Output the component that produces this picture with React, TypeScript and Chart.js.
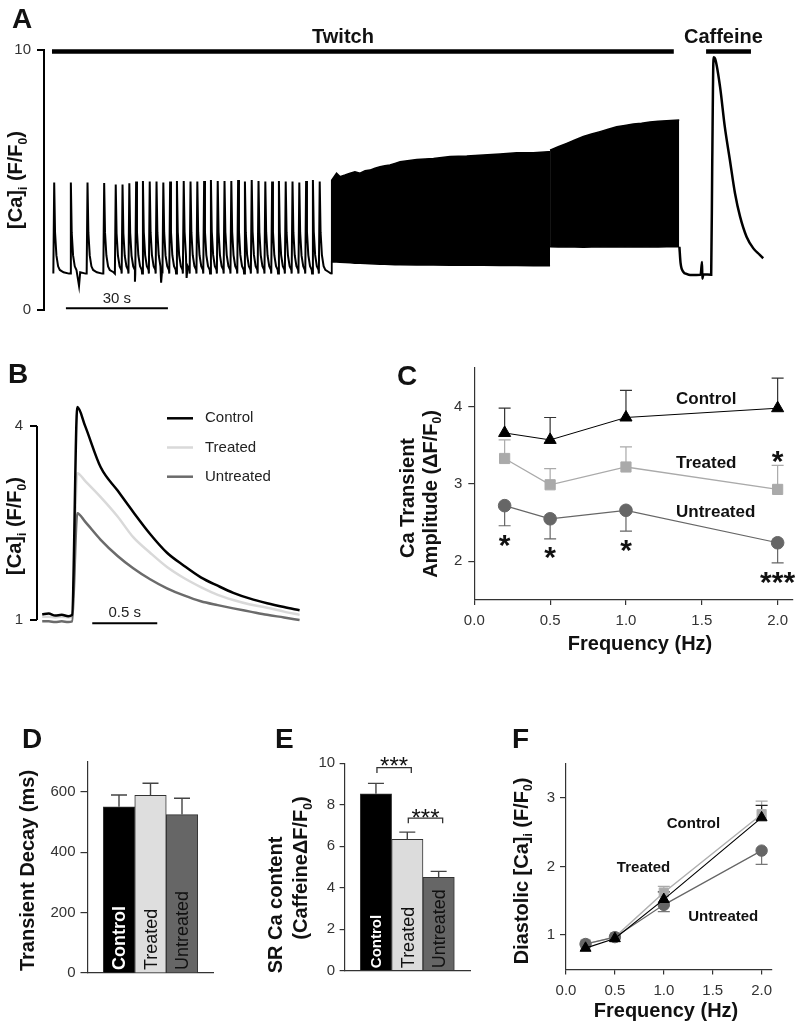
import React, { useEffect, useRef } from 'react';
import { Chart, registerables } from 'chart.js';

Chart.register(...registerables);

const FONT = '"Liberation Sans", Arial, Helvetica, sans-serif';
Chart.defaults.font.family = FONT;

const PAGE_W = 801;
const PAGE_H = 1026;

// ================= DATA =================
// Panel A: slow pacing beats (0.2 Hz then 0.5 Hz): onset time (s) and peak (F/F0)
const aSlowOnsets = [0.1, 5.0, 9.9, 14.8, 18.2, 20.2, 22.2, 24.2, 26.2, 28.2, 30.2, 32.2, 34.2, 36.2, 38.2, 40.2, 42.2, 44.2, 46.2, 48.2, 50.2, 52.2, 54.2, 56.2, 58.2, 60.2, 62.2, 64.2, 66.2, 68.2, 70.2, 72.2, 74.2, 76.2, 78.2];
const aSlowPeaks = [4.9, 4.9, 4.9, 4.88, 4.83, 4.83, 4.87, 4.94, 4.96, 4.94, 4.94, 4.9, 4.94, 4.96, 4.96, 4.94, 4.94, 4.96, 5.0, 4.96, 4.96, 4.96, 5.0, 4.94, 5.0, 4.96, 4.94, 4.94, 4.96, 4.94, 4.94, 4.9, 4.96, 5.0, 4.94];
const aSlowBaseline = 1.4;
// single transient shape read from the isolated beats (time after onset, fraction of amplitude)
const aShapeTime = [0, 0.25, 0.5, 0.9, 1.4, 1.9, 3.0, 4.6];
const aShapeFrac = [0, 1, 0.45, 0.2, 0.08, 0.04, 0.015, 0];
// recording noise dips in the slow segment
const aNoiseTime = [7.65, 24.1, 31.8, 39.3];
const aNoiseValue = [0.93, 1.09, 1.05, 1.23];
// 1 Hz segment envelope
const aFast1Time = [81.8, 81.97, 83.4, 84.4, 85.9, 87.4, 88.8, 90.3, 91.8, 93.2, 94.7, 96.2, 97.6, 99.1, 100.6, 102.1, 107, 111.9, 116.8, 121.7, 126.6, 131.5, 136.4, 141.3, 145.7, 146.2];
const aFast1Top = [1.4, 4.99, 5.26, 5.13, 5.19, 5.26, 5.32, 5.26, 5.36, 5.38, 5.45, 5.51, 5.55, 5.58, 5.64, 5.7, 5.79, 5.83, 5.9, 5.92, 5.96, 6.0, 6.05, 6.05, 6.09, 6.09];
const aFast1Bottom = [1.4, 1.86, 1.85, 1.84, 1.83, 1.82, 1.8, 1.8, 1.79, 1.78, 1.77, 1.76, 1.76, 1.75, 1.74, 1.74, 1.73, 1.73, 1.72, 1.72, 1.72, 1.71, 1.71, 1.7, 1.7, 1.7];
// 2 Hz segment envelope
const aFast2Time = [146.2, 148.6, 151.1, 153.5, 156, 158.4, 160.9, 163.3, 165.8, 168.2, 170.7, 173.1, 175.6, 178, 180.5, 184.2];
const aFast2Top = [6.15, 6.28, 6.41, 6.54, 6.67, 6.77, 6.86, 6.95, 7.05, 7.1, 7.15, 7.18, 7.23, 7.26, 7.28, 7.31];
const aFast2Bottom = [2.43, 2.42, 2.43, 2.42, 2.41, 2.42, 2.43, 2.42, 2.42, 2.43, 2.42, 2.42, 2.43, 2.42, 2.43, 2.43];
// rest + caffeine transient
const aTailTime = [184.25, 184.6, 185.4, 186.5, 187.4, 190.5, 190.9, 191.0, 191.3, 193.6, 193.9, 194.3, 194.7, 196.2, 197.6, 199.1, 200.6, 202.1, 204, 206, 207.9, 208.9];
const aTailValue = [2.43, 1.8, 1.47, 1.38, 1.35, 1.36, 1.85, 1.2, 1.37, 1.36, 5.5, 9.72, 9.68, 8.59, 7.05, 5.77, 4.49, 3.59, 2.82, 2.37, 2.12, 1.99];
const aTwitchSpan = [-0.3, 182.6];
const aCaffeineSpan = [192.1, 205.3];
const aScaleBarSpan = [3.8, 33.8];
const aYTicks = [0, 10];

// Panel B: representative transients (time s, F/F0)
const bTime = [0, 0.05, 0.1, 0.15, 0.2, 0.23, 0.27, 0.33, 0.45, 0.58, 0.7, 0.83, 0.96, 1.09, 1.22, 1.35, 1.47, 1.6, 1.73, 1.86, 1.98];
const bControl = [1.09, 1.1, 1.07, 1.08, 1.06, 1.08, 4.29, 4.0, 3.36, 3.0, 2.67, 2.33, 2.04, 1.84, 1.66, 1.53, 1.42, 1.33, 1.26, 1.2, 1.15];
const bTreated = [1.05, 1.05, 1.04, 1.05, 1.04, 1.05, 3.27, 3.15, 2.9, 2.6, 2.28, 2.04, 1.82, 1.65, 1.51, 1.39, 1.31, 1.24, 1.19, 1.13, 1.08];
const bUntreated = [0.98, 0.98, 0.97, 0.98, 0.97, 0.98, 2.65, 2.52, 2.24, 1.99, 1.8, 1.63, 1.49, 1.38, 1.29, 1.23, 1.18, 1.13, 1.08, 1.04, 1.0];
const bScaleBarSpan = [0.385, 0.885];
const bYTicks = [1, 4];
const groups = ['Control', 'Treated', 'Untreated'];

// Panel C: Ca transient amplitude vs frequency
const freqs = [0.2, 0.5, 1.0, 2.0];
const cControl = [3.66, 3.57, 3.86, 3.98];
const cControlSem = [0.32, 0.29, 0.35, 0.39];
const cTreated = [3.33, 2.99, 3.22, 2.93];
const cTreatedSem = [0.24, 0.21, 0.26, 0.31];
const cUntreated = [2.72, 2.55, 2.66, 2.24];
const cUntreatedSem = [0.26, 0.26, 0.27, 0.26];
const cYTicks = [2, 3, 4];
const freqTicks = [0, 0.5, 1.0, 1.5, 2.0];

// Panel D: transient decay (ms)
const dDecay = [551, 589, 525];
const dDecaySem = [39, 40, 54];
const dYTicks = [0, 200, 400, 600];

// Panel E: SR Ca content
const eContent = [8.53, 6.33, 4.5];
const eContentSem = [0.5, 0.35, 0.29];
const eYTicks = [0, 2, 4, 6, 8, 10];

// Panel F: diastolic Ca vs frequency
const fControl = [0.81, 0.95, 1.52, 2.71];
const fControlSem = [0, 0, 0.11, 0.18];
const fTreated = [0.87, 0.97, 1.62, 2.76];
const fTreatedSem = [0, 0, 0.09, 0.19];
const fUntreated = [0.87, 0.97, 1.44, 2.23];
const fUntreatedSem = [0, 0, 0.1, 0.2];
const fYTicks = [1, 2, 3];

// ================= HELPERS =================
const pts = (xs: number[], ys: number[]) => xs.map((x, i) => ({ x, y: ys[i] }));

function buildSlowTrace() {
  const out: { x: number; y: number }[] = [];
  aSlowOnsets.forEach((t0, i) => {
    const next = i + 1 < aSlowOnsets.length ? aSlowOnsets[i + 1] : aFast1Time[0];
    aShapeTime.forEach((dt, k) => {
      if (t0 + dt < next) out.push({ x: t0 + dt, y: aSlowBaseline + (aSlowPeaks[i] - aSlowBaseline) * aShapeFrac[k] });
    });
  });
  aNoiseTime.forEach((t, i) => out.push({ x: t, y: aNoiseValue[i] }));
  out.push({ x: aFast1Time[0], y: aSlowBaseline });
  out.sort((a, b) => a.x - b.x);
  return out;
}

function text(ctx: any, s: string, x: number, y: number, size: number, o: any = {}) {
  ctx.save();
  ctx.font = `${o.bold ? 'bold ' : ''}${size}px ${FONT}`;
  ctx.fillStyle = o.color ?? '#111';
  ctx.textAlign = o.align ?? 'left';
  ctx.textBaseline = o.base ?? 'alphabetic';
  ctx.fillText(s, x, y);
  ctx.restore();
}

function stars(ctx: any, s: string, cx: number, cy: number, size: number, bold = true) {
  text(ctx, s, cx, cy + 0.585 * size, size, { bold, align: 'center', color: '#111' });
}

// vertical (rotated) rich text with subscripts, centred at (cx, cy) = cap centre
function richV(ctx: any, segs: any[], cx: number, cy: number, size: number) {
  const main = `bold ${size}px ${FONT}`;
  const sub = `bold ${Math.round(size * 0.6)}px ${FONT}`;
  ctx.save();
  ctx.translate(cx, cy);
  ctx.rotate(-Math.PI / 2);
  let total = 0;
  segs.forEach(([t, s]) => { ctx.font = s ? sub : main; total += ctx.measureText(t).width; });
  let x = -total / 2;
  ctx.fillStyle = '#111';
  ctx.textBaseline = 'alphabetic';
  ctx.textAlign = 'left';
  const base = size * 0.36;
  segs.forEach(([t, s]) => {
    ctx.font = s ? sub : main;
    ctx.fillText(t, x, s ? base + size * 0.22 : base);
    x += ctx.measureText(t).width;
  });
  ctx.restore();
}

function vLabel(ctx: any, s: string, x: number, yBottom: number, size: number, bold: boolean, color: string) {
  ctx.save();
  ctx.translate(x, yBottom);
  ctx.rotate(-Math.PI / 2);
  ctx.font = `${bold ? 'bold ' : ''}${size}px ${FONT}`;
  ctx.fillStyle = color;
  ctx.textAlign = 'left';
  ctx.textBaseline = 'alphabetic';
  ctx.fillText(s, 0, 0.36 * size);
  ctx.restore();
}

function errBar(ctx: any, x: number, y0: number, y1: number, cap: number, color: string, lw = 1.2) {
  ctx.save();
  ctx.strokeStyle = color;
  ctx.lineWidth = lw;
  ctx.beginPath();
  ctx.moveTo(x, y0);
  ctx.lineTo(x, y1);
  ctx.moveTo(x - cap / 2, y1);
  ctx.lineTo(x + cap / 2, y1);
  ctx.stroke();
  ctx.restore();
}

function line(ctx: any, x0: number, y0: number, x1: number, y1: number, color: string, lw: number) {
  ctx.save();
  ctx.strokeStyle = color;
  ctx.lineWidth = lw;
  ctx.beginPath();
  ctx.moveTo(x0, y0);
  ctx.lineTo(x1, y1);
  ctx.stroke();
  ctx.restore();
}

function yLinear(o: any) {
  const color = o.color ?? '#333';
  return {
    type: 'linear', position: 'left', min: o.min, max: o.max,
    afterFit: (s: any) => { s.width = o.width; },
    afterBuildTicks: (s: any) => { s.ticks = o.ticks.map((value: number) => ({ value })); },
    grid: { display: true, drawOnChartArea: false, drawTicks: true, tickLength: o.tickLen, color, lineWidth: o.lw ?? 1.2 },
    border: { display: o.border ?? true, color, width: o.lw ?? 1.2 },
    ticks: { color: '#333', font: { size: 15, family: FONT }, padding: o.pad, autoSkip: false, callback: (v: any) => String(v) },
  };
}

function xLinear(o: any) {
  return {
    type: 'linear', position: 'bottom', min: o.min, max: o.max,
    afterFit: (s: any) => { s.height = o.height; },
    afterBuildTicks: (s: any) => { s.ticks = o.ticks.map((value: number) => ({ value })); },
    grid: { display: true, drawOnChartArea: false, drawTicks: true, tickLength: 5, color: '#333', lineWidth: 1.2 },
    border: { display: true, color: '#333', width: 1.2 },
    ticks: { color: '#333', font: { size: 15, family: FONT }, padding: 7, autoSkip: false, maxRotation: 0, callback: (v: any) => Number(v).toFixed(1) },
  };
}

function baseOptions(L: number, T: number, R: number, B: number, yw: number, xh: number, scales: any) {
  return {
    responsive: false,
    maintainAspectRatio: false,
    animation: false,
    devicePixelRatio: 1,
    events: [],
    layout: { padding: { left: L - yw, top: T, right: PAGE_W - R, bottom: PAGE_H - B - xh } },
    plugins: { legend: { display: false }, tooltip: { enabled: false }, title: { display: false } },
    scales,
  };
}

// ================= PANEL A =================
function makeA() {
  const flat = (span: number[], v: number) => [{ x: span[0], y: v }, { x: span[1], y: v }];
  const plugin = {
    id: 'pA',
    afterDraw(chart: any) {
      const { ctx } = chart;
      const x = chart.scales.x, y = chart.scales.y;
      text(ctx, 'A', 12, 28, 28, { bold: true });
      richV(ctx, [['[Ca]'], ['i', true], [' (F/F'], ['0', true], [')']], 15, 180, 20);
      text(ctx, 'Twitch', x.getPixelForValue(85.3), y.getPixelForValue(10.28), 20, { bold: true, align: 'center' });
      text(ctx, 'Caffeine', x.getPixelForValue(197.2), y.getPixelForValue(10.28), 20, { bold: true, align: 'center' });
      text(ctx, '30 s', x.getPixelForValue((aScaleBarSpan[0] + aScaleBarSpan[1]) / 2), y.getPixelForValue(0.26), 15, { align: 'center', color: '#222' });
    },
  };
  return {
    type: 'line',
    data: {
      datasets: [
        { data: buildSlowTrace(), borderColor: '#000', borderWidth: 2, pointRadius: 0 },
        { data: pts(aFast1Time, aFast1Bottom), borderColor: '#000', borderWidth: 1.5, pointRadius: 0 },
        { data: pts(aFast1Time, aFast1Top), borderColor: '#000', borderWidth: 1.5, pointRadius: 0, fill: '-1', backgroundColor: '#000' },
        { data: pts(aFast2Time, aFast2Bottom), borderColor: '#000', borderWidth: 1.5, pointRadius: 0 },
        { data: pts(aFast2Time, aFast2Top), borderColor: '#000', borderWidth: 1.5, pointRadius: 0, fill: '-1', backgroundColor: '#000' },
        { data: pts(aTailTime, aTailValue), borderColor: '#000', borderWidth: 2.5, pointRadius: 0, cubicInterpolationMode: 'monotone' },
        { data: flat(aTwitchSpan, 9.94), borderColor: '#000', borderWidth: 4.5, pointRadius: 0, clip: false },
        { data: flat(aCaffeineSpan, 9.94), borderColor: '#000', borderWidth: 4.5, pointRadius: 0, clip: false },
        { data: flat(aScaleBarSpan, 0.07), borderColor: '#000', borderWidth: 2, pointRadius: 0, clip: false },
      ],
    },
    options: baseOptions(44, 50, 770, 310, 44, 0, {
      x: { type: 'linear', display: false, min: -2.65, max: 210.9 },
      y: yLinear({ min: 0, max: 10, ticks: aYTicks, width: 44, tickLen: 7, pad: 6, color: '#000', lw: 2 }),
    }),
    plugins: [plugin],
  };
}

// ================= PANEL B =================
function makeB() {
  const legendItems = [['Control', '#000'], ['Treated', '#d9d9d9'], ['Untreated', '#6b6b6b']];
  const plugin = {
    id: 'pB',
    afterDraw(chart: any) {
      const { ctx, chartArea } = chart;
      const x = chart.scales.x, y = chart.scales.y;
      line(ctx, chartArea.left, y.getPixelForValue(bYTicks[0]), chartArea.left, y.getPixelForValue(bYTicks[1]), '#000', 2);
      text(ctx, 'B', 8, 383, 28, { bold: true });
      richV(ctx, [['[Ca]'], ['i', true], [' (F/F'], ['0', true], [')']], 14, 526, 20);
      legendItems.forEach(([name, col], i) => {
        const yy = 418.3 + i * 29.2;
        line(ctx, 167, yy, 193, yy, col, 2.5);
        text(ctx, name, 205, yy, 15, { base: 'middle', color: '#222' });
      });
      text(ctx, '0.5 s', x.getPixelForValue((bScaleBarSpan[0] + bScaleBarSpan[1]) / 2), y.getPixelForValue(1.05), 15, { align: 'center', color: '#222' });
    },
  };
  const trace = (vals: number[], color: string) => ({
    data: pts(bTime, vals), borderColor: color, borderWidth: 2.5, pointRadius: 0, cubicInterpolationMode: 'monotone',
  });
  return {
    type: 'line',
    data: {
      datasets: [
        trace(bControl, '#000'),
        trace(bUntreated, '#6b6b6b'),
        trace(bTreated, '#d9d9d9'),
        { data: [{ x: bScaleBarSpan[0], y: 0.95 }, { x: bScaleBarSpan[1], y: 0.95 }], borderColor: '#000', borderWidth: 2, pointRadius: 0, clip: false },
      ],
    },
    options: baseOptions(37, 400, 310, 626.5, 37, 0, {
      x: { type: 'linear', display: false, min: -0.04, max: 2.06 },
      y: yLinear({ min: 0.9, max: 4.4, ticks: bYTicks, width: 37, tickLen: 7, pad: 7, color: '#000', lw: 2, border: false }),
    }),
    plugins: [plugin],
  };
}

// ================= PANEL C =================
function makeC() {
  const plugin = {
    id: 'pC',
    beforeDatasetsDraw(chart: any) {
      const { ctx } = chart;
      const x = chart.scales.x, y = chart.scales.y;
      freqs.forEach((f, i) => {
        const px = x.getPixelForValue(f);
        errBar(ctx, px, y.getPixelForValue(cTreated[i]), y.getPixelForValue(cTreated[i] + cTreatedSem[i]), 12, '#aaa');
        errBar(ctx, px, y.getPixelForValue(cUntreated[i]), y.getPixelForValue(cUntreated[i] - cUntreatedSem[i]), 12, '#666');
        errBar(ctx, px, y.getPixelForValue(cControl[i]), y.getPixelForValue(cControl[i] + cControlSem[i]), 12, '#333');
      });
    },
    afterDraw(chart: any) {
      const { ctx } = chart;
      const x = chart.scales.x, y = chart.scales.y;
      text(ctx, 'C', 397, 385, 28, { bold: true });
      richV(ctx, [['Ca Transient']], 406.5, 498, 20);
      richV(ctx, [['Amplitude (\u0394F/F'], ['0', true], [')']], 429.5, 494, 20);
      text(ctx, 'Frequency (Hz)', 640, 650, 20, { bold: true, align: 'center' });
      text(ctx, 'Control', x.getPixelForValue(1.33), y.getPixelForValue(4.09), 17, { bold: true, base: 'middle' });
      text(ctx, 'Treated', x.getPixelForValue(1.33), y.getPixelForValue(3.27), 17, { bold: true, base: 'middle' });
      text(ctx, 'Untreated', x.getPixelForValue(1.33), y.getPixelForValue(2.64), 17, { bold: true, base: 'middle' });
      stars(ctx, '*', x.getPixelForValue(0.2), y.getPixelForValue(2.31), 30);
      stars(ctx, '*', x.getPixelForValue(0.5), y.getPixelForValue(2.15), 30);
      stars(ctx, '*', x.getPixelForValue(1.0), y.getPixelForValue(2.24), 30);
      stars(ctx, '***', x.getPixelForValue(2.0), y.getPixelForValue(1.835), 30);
      stars(ctx, '*', x.getPixelForValue(2.0), y.getPixelForValue(3.4), 30);
    },
  };
  return {
    type: 'line',
    data: {
      datasets: [
        { data: pts(freqs, cControl), borderColor: '#000', backgroundColor: '#000', borderWidth: 1, pointStyle: 'triangle', pointRadius: 7, pointBorderWidth: 1 },
        { data: pts(freqs, cUntreated), borderColor: '#666', backgroundColor: '#666', borderWidth: 1.2, pointStyle: 'circle', pointRadius: 6.3, pointBorderWidth: 1 },
        { data: pts(freqs, cTreated), borderColor: '#aaa', backgroundColor: '#aaa', borderWidth: 1.3, pointStyle: 'rect', pointRadius: 7.2, pointBorderWidth: 1 },
      ],
    },
    options: baseOptions(474.3, 368, 795.3, 600, 50, 30, {
      x: xLinear({ min: 0, max: 2.1, ticks: freqTicks, height: 30 }),
      y: yLinear({ min: 1.5, max: 4.5, ticks: cYTicks, width: 50, tickLen: 6, pad: 6 }),
    }),
    plugins: [plugin],
  };
}

// ================= BAR PANELS (D, E) =================
function makeBars(opts: any) {
  const values = opts.values, sem = opts.sem;
  const plugin = {
    id: 'bars' + opts.letter,
    afterDatasetsDraw(chart: any) {
      const { ctx } = chart;
      const x = chart.scales.x, y = chart.scales.y;
      values.forEach((v: number, i: number) => {
        const px = x.getPixelForValue(i + 1);
        errBar(ctx, px, y.getPixelForValue(v), y.getPixelForValue(v + sem[i]), 16, '#444', 1.4);
        const bottom = y.getPixelForValue(0) - opts.labelLift;
        if (i === 0) vLabel(ctx, groups[i], px, bottom, opts.ctrlSize, true, '#fff');
        else vLabel(ctx, groups[i], px, bottom, 18, false, '#111');
      });
    },
    afterDraw(chart: any) {
      const { ctx } = chart;
      opts.draw(ctx, chart.scales.x, chart.scales.y);
    },
  };
  return {
    type: 'bar',
    data: {
      labels: ['', ...groups, ''],
      datasets: [{
        data: [null, ...values, null],
        backgroundColor: ['#fff', '#000', opts.treatedColor, '#666', '#fff'],
        borderColor: '#333',
        borderWidth: 1,
        borderSkipped: 'start',
        barPercentage: 1,
        categoryPercentage: 1,
      }],
    },
    options: baseOptions(opts.L, opts.T, opts.R, opts.B, 50, 10, {
      x: {
        type: 'category', offset: false,
        afterFit: (s: any) => { s.height = 10; },
        grid: { display: false, offset: false },
        border: { display: true, color: '#333', width: 1.2 },
        ticks: { display: false },
      },
      y: yLinear({ min: 0, max: opts.max, ticks: opts.ticks, width: 50, tickLen: opts.tickLen, pad: opts.pad }),
    }),
    plugins: [plugin],
  };
}

function makeD() {
  return makeBars({
    letter: 'D', values: dDecay, sem: dDecaySem, L: 87.5, T: 761.8, R: 213.5, B: 973, max: 700, ticks: dYTicks,
    tickLen: 7, pad: 5, treatedColor: '#dedede', ctrlSize: 18, labelLift: 3,
    draw: (ctx: any) => {
      text(ctx, 'D', 22, 748, 28, { bold: true });
      richV(ctx, [['Transient Decay (ms)']], 26.5, 870.5, 20);
    },
  });
}

function makeE() {
  return makeBars({
    letter: 'E', values: eContent, sem: eContentSem, L: 344.6, T: 763.3, R: 470, B: 970.7, max: 10, ticks: eYTicks,
    tickLen: 5, pad: 4.5, treatedColor: '#dcdcdc', ctrlSize: 15, labelLift: 2.5,
    draw: (ctx: any, x: any, y: any) => {
      text(ctx, 'E', 275, 748, 28, { bold: true });
      richV(ctx, [['SR Ca content']], 274.5, 905, 20);
      richV(ctx, [['(Caffeine\u0394F/F'], ['0', true], [')']], 300, 868, 20);
      const bracket = (i: number, j: number, level: number, drop: number, starLevel: number) => {
        const x0 = x.getPixelForValue(i) + 1, x1 = x.getPixelForValue(j) + 4;
        const yy = y.getPixelForValue(level), yd = y.getPixelForValue(drop);
        ctx.save();
        ctx.strokeStyle = '#333';
        ctx.lineWidth = 1.3;
        ctx.beginPath();
        ctx.moveTo(x0, yd); ctx.lineTo(x0, yy); ctx.lineTo(x1, yy); ctx.lineTo(x1, yd);
        ctx.stroke();
        ctx.restore();
        stars(ctx, '***', (x0 + x1) / 2, y.getPixelForValue(starLevel), 24, false);
      };
      bracket(1, 2, 9.79, 9.53, 10.16);
      bracket(2, 3, 7.36, 7.11, 7.67);
    },
  });
}

// ================= PANEL F =================
function makeF() {
  const plugin = {
    id: 'pF',
    beforeDatasetsDraw(chart: any) {
      const { ctx } = chart;
      const x = chart.scales.x, y = chart.scales.y;
      freqs.forEach((f, i) => {
        const px = x.getPixelForValue(f);
        if (fTreatedSem[i]) errBar(ctx, px, y.getPixelForValue(fTreated[i]), y.getPixelForValue(fTreated[i] + fTreatedSem[i]), 12, '#aaa');
        if (fUntreatedSem[i]) errBar(ctx, px, y.getPixelForValue(fUntreated[i]), y.getPixelForValue(fUntreated[i] - fUntreatedSem[i]), 12, '#777');
        if (fControlSem[i]) errBar(ctx, px, y.getPixelForValue(fControl[i]), y.getPixelForValue(fControl[i] + fControlSem[i]), 12, '#222');
      });
    },
    afterDraw(chart: any) {
      const { ctx } = chart;
      const x = chart.scales.x, y = chart.scales.y;
      text(ctx, 'F', 512, 748, 28, { bold: true });
      richV(ctx, [['Diastolic [Ca]'], ['i', true], [' (F/F'], ['0', true], [')']], 520.5, 871, 20);
      text(ctx, 'Frequency (Hz)', 666, 1017, 20, { bold: true, align: 'center' });
      text(ctx, 'Control', x.getPixelForValue(1.03), y.getPixelForValue(2.62), 15, { bold: true, base: 'middle' });
      text(ctx, 'Treated', x.getPixelForValue(0.52), y.getPixelForValue(1.98), 15, { bold: true, base: 'middle' });
      text(ctx, 'Untreated', x.getPixelForValue(1.25), y.getPixelForValue(1.27), 15, { bold: true, base: 'middle' });
    },
  };
  return {
    type: 'line',
    data: {
      datasets: [
        { data: pts(freqs, fControl), borderColor: '#000', backgroundColor: '#000', borderWidth: 1.2, pointStyle: 'triangle', pointRadius: 6.3, pointBorderWidth: 1 },
        { data: pts(freqs, fUntreated), borderColor: '#666', backgroundColor: '#666', borderWidth: 1.2, pointStyle: 'circle', pointRadius: 5.7, pointBorderWidth: 1 },
        { data: pts(freqs, fTreated), borderColor: '#b0b0b0', backgroundColor: '#aaa', borderWidth: 1.5, pointStyle: 'rect', pointRadius: 6.5, pointBorderWidth: 1 },
      ],
    },
    options: baseOptions(566, 763.4, 771.4, 969.4, 50, 30, {
      x: xLinear({ min: 0, max: 2.1, ticks: freqTicks, height: 30 }),
      y: yLinear({ min: 0.5, max: 3.5, ticks: fYTicks, width: 50, tickLen: 6, pad: 5 }),
    }),
    plugins: [plugin],
  };
}

// ================= COMPONENTS =================
function Panel({ make }: { make: () => any }) {
  const ref = useRef<HTMLCanvasElement | null>(null);
  useEffect(() => {
    const chart = new Chart(ref.current as HTMLCanvasElement, make());
    return () => chart.destroy();
  }, [make]);
  return (
    <canvas
      ref={ref}
      width={PAGE_W}
      height={PAGE_H}
      style={{ position: 'absolute', left: 0, top: 0, width: PAGE_W, height: PAGE_H }}
    />
  );
}

export default function App() {
  return (
    <div style={{ position: 'absolute', left: 0, top: 0, width: PAGE_W, height: PAGE_H, overflow: 'hidden', background: '#fff' }}>
      <Panel make={makeA} />
      <Panel make={makeB} />
      <Panel make={makeC} />
      <Panel make={makeD} />
      <Panel make={makeE} />
      <Panel make={makeF} />
    </div>
  );
}
